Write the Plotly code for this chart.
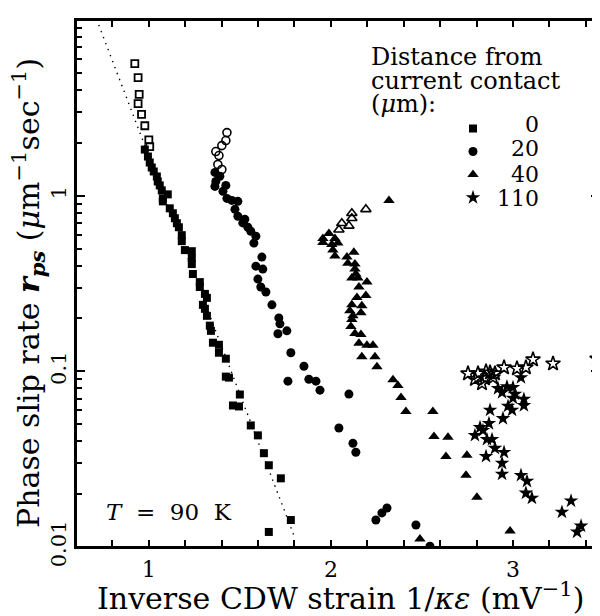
import plotly.graph_objects as go

# ---------------- data ----------------
# 0 um (squares)
sq_open_x = [0.923, 0.941, 0.947, 0.941, 0.960, 0.978, 1.000, 1.005]
sq_open_y = [5.65, 4.70, 3.77, 3.34, 2.90, 2.50, 2.08, 1.90]
sq_x = [0.978, 0.995, 1.005, 1.016, 1.027, 1.044, 1.049, 1.060, 1.071, 1.077,
        1.104, 1.077, 1.115, 1.132, 1.143, 1.154, 1.165, 1.181, 1.181, 1.198,
        1.236, 1.236, 1.236, 1.242, 1.280, 1.280, 1.308, 1.319, 1.297, 1.308,
        1.319, 1.335, 1.341, 1.352, 1.385, 1.385, 1.423, 1.423, 1.440, 1.500,
        1.462, 1.495, 1.560, 1.599, 1.632, 1.659, 1.725, 1.780, 1.659]
sq_y = [1.83, 1.67, 1.545, 1.447, 1.373, 1.286, 1.205, 1.144, 1.072, 0.965,
        1.017, 0.928, 0.847, 0.794, 0.744, 0.697, 0.661, 0.596, 0.551, 0.490,
        0.483, 0.441, 0.408, 0.358, 0.322, 0.302, 0.276, 0.262, 0.239, 0.227,
        0.207, 0.182, 0.170, 0.1455, 0.1416, 0.1276, 0.118, 0.0933, 0.0921, 0.0738,
        0.0639, 0.0631, 0.0492, 0.0432, 0.0342, 0.0292, 0.0246, 0.01424, 0.01218]

# 20 um (circles)
ci_open_x = [1.429, 1.423, 1.401, 1.368, 1.385, 1.379, 1.401]
ci_open_y = [2.285, 2.059, 1.928, 1.783, 1.692, 1.505, 1.409]
ci_x = [1.363, 1.368, 1.363, 1.423, 1.407, 1.429, 1.489, 1.473, 1.489, 1.527,
        1.544, 1.560, 1.588, 1.577, 1.621, 1.588, 1.626, 1.599, 1.615, 1.643,
        1.676, 1.714, 1.720, 1.709, 1.758, 1.780, 1.852, 1.764, 1.879, 1.918,
        1.940, 2.099, 2.044, 2.121, 2.137, 2.247, 2.280, 2.308, 2.467, 2.544,
        1.390, 1.456, 1.516]
ci_y = [1.356, 1.205, 1.129, 1.144, 1.058, 0.965, 0.928, 0.836, 0.763, 0.734,
        0.661, 0.627, 0.588, 0.537, 0.447, 0.397, 0.382, 0.335, 0.302, 0.283,
        0.239, 0.2015, 0.1864, 0.1636, 0.170, 0.1276, 0.1069, 0.0879, 0.0902, 0.0879,
        0.0781, 0.0742, 0.0476, 0.0389, 0.0346, 0.01424, 0.01563, 0.01668, 0.01334, 0.0101,
        1.29, 0.94, 0.70]

# 40 um (triangles)
tr_open_x = [2.044, 2.060, 2.099, 2.115, 2.115, 2.192]
tr_open_y = [0.640, 0.697, 0.673, 0.744, 0.794, 0.836]
tr_x = [2.319, 1.956, 1.989, 2.022, 1.956, 2.005, 2.038, 2.011, 2.022, 2.126,
        2.088, 2.093, 2.132, 2.132, 2.137, 2.115, 2.148, 2.198, 2.154, 2.192,
        2.143, 2.115, 2.170, 2.165, 2.104, 2.121, 2.115, 2.110, 2.132, 2.165,
        2.154, 2.198, 2.231, 2.170, 2.242, 2.253, 2.341, 2.368, 2.385, 2.412,
        2.560, 2.566, 2.643, 2.632, 2.747, 2.742, 2.802, 2.489, 2.984]
tr_y = [0.940, 0.571, 0.609, 0.571, 0.542, 0.528, 0.537, 0.490, 0.453, 0.477,
        0.447, 0.413, 0.408, 0.382, 0.358, 0.340, 0.340, 0.322, 0.302, 0.270,
        0.263, 0.239, 0.236, 0.2153, 0.2209, 0.207, 0.1974, 0.1801, 0.1644, 0.1623,
        0.1443, 0.1406, 0.1406, 0.1211, 0.1211, 0.1063, 0.0897, 0.0830, 0.0710, 0.0591,
        0.0591, 0.0426, 0.0421, 0.0328, 0.0333, 0.0256, 0.0192, 0.01111, 0.01234]

# 110 um (stars)
st_open_x = [2.753, 2.808, 2.852, 2.830, 2.890, 2.901, 2.951, 3.022, 3.071, 3.110,
             3.220, 3.462, 2.791, 2.874, 2.846]
st_open_y = [0.0972, 0.0972, 0.0997, 0.0853, 0.0922, 0.0972, 0.1051, 0.1037, 0.1051, 0.1167,
             0.1107, 0.1180, 0.0902, 0.0984, 0.0910]
st_x = [3.044, 2.918, 2.940, 2.967, 3.000, 3.011, 3.000, 2.973, 2.995, 3.060,
        3.060, 2.874, 2.945, 2.868, 2.819, 2.791, 2.835, 2.857, 2.885, 2.901,
        2.951, 2.852, 2.940, 2.940, 3.044, 3.077, 3.071, 3.104, 3.269, 3.319,
        3.352, 3.374]
st_y = [0.0922, 0.0799, 0.0758, 0.0818, 0.0810, 0.0742, 0.0704, 0.0634, 0.0602, 0.0695,
        0.0639, 0.0602, 0.0539, 0.0505, 0.0479, 0.0432, 0.0461, 0.0410, 0.0410, 0.0365,
        0.0346, 0.0328, 0.0300, 0.0260, 0.0256, 0.0237, 0.0203, 0.0190, 0.0158, 0.0183,
        0.01218, 0.01317]

# dotted exponential fit for 0 um
fit_x = [0.725, 1.800]
fit_y = [9.36, 0.0114]

legend_labels = ["0", "20", "40", "110"]
legend_header = ["Distance from", "current contact", "(<i>\u03bc</i>m):"]
x_ticks = [1, 2, 3]
y_ticks = [0.01, 0.1, 1, 10]
y_tick_text = ["0.01", "0.1", "1", "10"]

# ---------------- figure ----------------
FONT = "DejaVu Serif"
fig = go.Figure()

fig.add_trace(go.Scatter(x=fit_x, y=fit_y, mode="lines",
                         line=dict(color="black", width=1.4, dash="1.4px,5px"),
                         showlegend=False, hoverinfo="skip"))

def add(x, y, sym, size, name=None, legend=False, lw=0.0):
    fig.add_trace(go.Scatter(
        x=x, y=y, mode="markers", name=name, showlegend=legend,
        marker=dict(symbol=sym, size=size, color="black",
                    line=dict(width=lw, color="black"))))

add(sq_open_x, sq_open_y, "square-open", 7, lw=1.8)
add(ci_open_x, ci_open_y, "circle-open", 8, lw=1.6)
add(tr_open_x, tr_open_y, "triangle-up-open", 9, lw=1.6)
add(st_open_x, st_open_y, "star-open", 11, lw=1.6)

# legend entries carry a blank name; the numbers are placed as annotations
add(sq_x, sq_y, "square", 8, "\u2007", True)
add(ci_x, ci_y, "circle", 9, "\u2007", True)
add(tr_x, tr_y, "triangle-up", 10, "\u2007", True)
add(st_x, st_y, "star", 11, "\u2007", True)

# the page body adds an 8px offset; lay out in window pixels
OFF = 8
W, H = 600 - OFF, 616 - OFF
L, R, T, B = 76 - OFF, 0, 20 - OFF, H - (547 - OFF)
pw, ph = W - L - R, H - T - B

def px(xw):
    return (xw - OFF - L) / pw

def py(yw):
    return (H - B - (yw - OFF)) / ph

annotations = [
    dict(text="Phase slip rate <b><i>r</i></b><sub><b><i>ps</i></b></sub> (<i>\u03bc</i>m<sup>\u22121</sup>sec<sup>\u22121</sup>)",
         xref="paper", yref="paper", x=px(28), y=py(293), textangle=-90,
         xanchor="center", yanchor="middle", showarrow=False,
         font=dict(size=30, family=FONT)),
    dict(text="Inverse CDW strain 1/<i>\u03ba\u03b5</i> (mV<sup>\u22121</sup>)",
         xref="paper", yref="paper", x=px(340), y=py(596),
         xanchor="center", yanchor="middle", showarrow=False,
         font=dict(size=30, family=FONT)),
    dict(text="<i>T</i>\u00a0\u00a0=\u00a0\u00a090\u00a0\u00a0K",
         xref="paper", yref="paper", x=px(104), y=py(512),
         xanchor="left", yanchor="middle", showarrow=False,
         font=dict(size=23, family=FONT)),
]
for line, yy in zip(legend_header, [57, 81, 104]):
    annotations.append(dict(text=line, xref="paper", yref="paper",
                            x=px(369), y=py(yy), xanchor="left", yanchor="middle",
                            showarrow=False, font=dict(size=24, family=FONT)))
for lab, yy in zip(legend_labels, [124, 149, 174, 199]):
    annotations.append(dict(text=lab, xref="paper", yref="paper",
                            x=px(541), y=py(yy), xanchor="right", yanchor="middle",
                            showarrow=False, font=dict(size=22, family=FONT)))

fig.update_layout(
    width=W, height=H,
    margin=dict(l=L, r=R, t=T, b=B, autoexpand=False),
    paper_bgcolor="white", plot_bgcolor="white",
    font=dict(family=FONT, color="black", size=20),
    legend=dict(x=px(453), y=py(112), xanchor="left", yanchor="top",
                bgcolor="rgba(0,0,0,0)", font=dict(size=15.4, family=FONT),
                itemwidth=30, tracegroupgap=0),
    xaxis=dict(range=[0.6, 3.478], showline=True, linecolor="black", linewidth=2,
               mirror="ticks", ticks="inside", ticklen=7, tickwidth=1.5,
               tickcolor="black", tickvals=x_ticks, showgrid=False, zeroline=False,
               automargin=False, ticklabelstandoff=2, tickfont=dict(size=22),
               minor=dict(ticks="inside", ticklen=7, tickwidth=1.5, tickcolor="black",
                          tick0=0, dtick=0.2, showgrid=False)),
    yaxis=dict(type="log", range=[-2, 1], showline=True, linecolor="black", linewidth=2,
               mirror="ticks", ticks="inside", ticklen=9, tickwidth=1.5,
               tickcolor="black", tickvals=y_ticks, ticktext=y_tick_text,
               tickangle=-90, showgrid=False, zeroline=False, tickfont=dict(size=21),
               automargin=False,
               minor=dict(ticks="inside", ticklen=6, tickwidth=1.5, tickcolor="black",
                          tickvals=[m * d for d in (0.01, 0.1, 1) for m in range(2, 10)],
                          showgrid=False)),
    shapes=[dict(type="rect", xref="paper", yref="paper", x0=0, x1=1, y0=0, y1=1,
                 line=dict(color="black", width=2), fillcolor="rgba(0,0,0,0)",
                 layer="above")],
    annotations=annotations,
)

fig.write_html("out.html")
